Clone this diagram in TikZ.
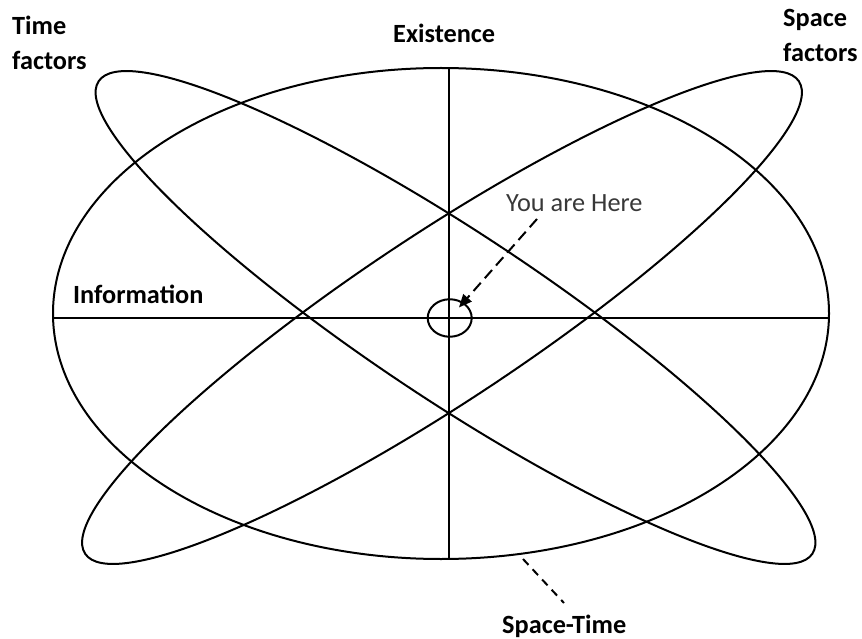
\documentclass[tikz,border=0pt]{standalone}
\usepackage{fontspec}
\setmainfont{Carlito}
\usetikzlibrary{arrows.meta,shapes.geometric}
\begin{document}
\begin{tikzpicture}[x=1pt,y=-1pt,
  curve/.style={line width=2pt, black},
  axisline/.style={line width=2pt, black},
  lab/.style={font=\fontsize{26.3}{35}\selectfont\bfseries, inner sep=0pt, anchor=base west, align=left},
  note/.style={font=\fontsize{26.3}{35}\selectfont, text=black!78, inner sep=0pt, anchor=base west},
  dasharrow/.style={line width=2pt, dash pattern=on 11pt off 6pt, -{Triangle[length=13pt,width=11pt]}},
  dashline/.style={line width=2pt, dash pattern=on 8pt off 6pt}
]
\useasboundingbox (0,0) rectangle (862,639);

% main ellipse (space-time)
\draw[curve] (441,313.5) ellipse [x radius=388, y radius=245.5];
% tilted ellipses
\draw[curve, rotate around={-33.5:(455.5,317.5)}] (455.5,317.5) ellipse [x radius=428, y radius=84];
\draw[curve, rotate around={33.5:(442,317.5)}] (442,317.5) ellipse [x radius=428, y radius=84];

% axes
\coordinate (htop) at (449,68);
\coordinate (hbot) at (449,559);
\coordinate (hleft) at (53,318);
\coordinate (hright) at (829,318);
\draw[axisline] (htop) -- (hbot);
\draw[axisline] (hleft) -- (hright);

% you are here
\node[draw, ellipse, line width=2pt, minimum width=44pt, minimum height=37.5pt, inner sep=0pt] (here) at (449.7,318) {};

% labels (base anchor = baseline of last line)
\node[lab] (time) at (12,70) {Time\\factors};
\node[lab] (space) at (783,62) {Space\\factors};
\node[lab] (exist) at (393,43) {Existence};
\node[lab] (info) at (73,303) {Information};
\node[lab] (st) at (502,633) {Space-Time};
\node[note] (yah) at (506,211.7) {You are Here};

\coordinate (yahstart) at (537,219);
\draw[dasharrow, shorten >=14pt] (yahstart) -- (here.center);

\coordinate (ststart) at (523,559);
\coordinate (stend) at (564,603);
\draw[dashline] (ststart) -- (stend);
\end{tikzpicture}
\end{document}
